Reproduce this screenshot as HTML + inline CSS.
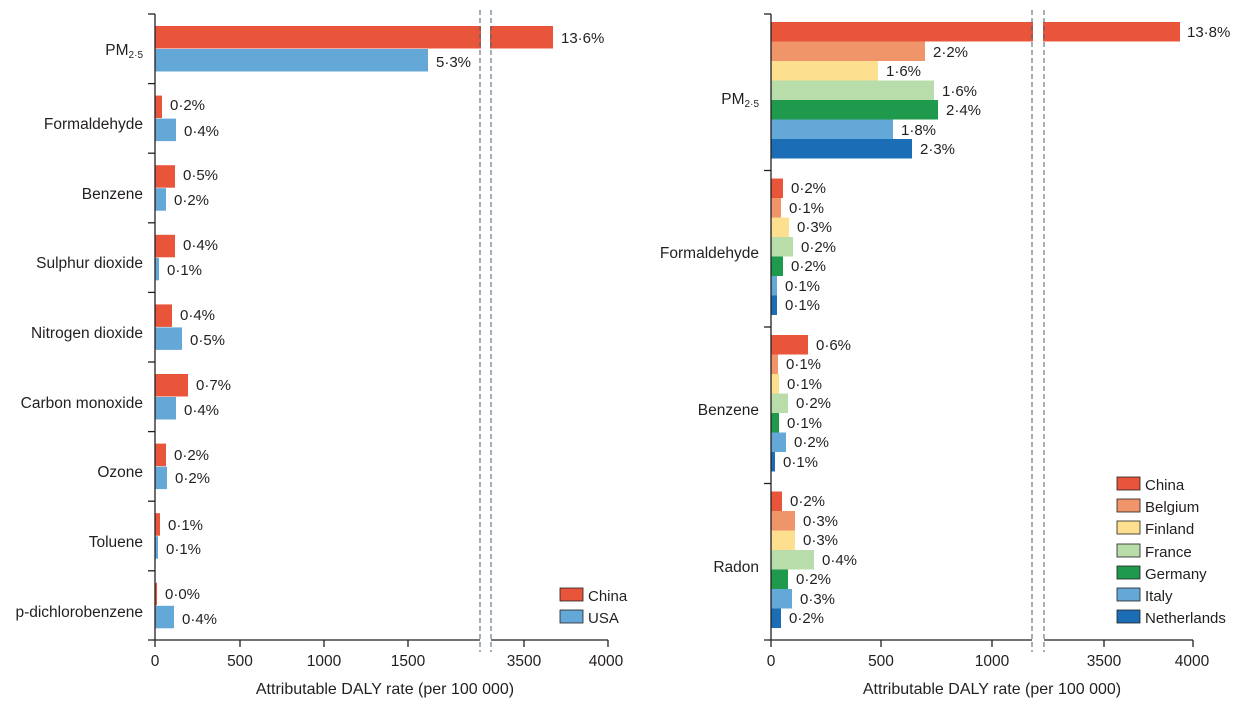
<!DOCTYPE html>
<html><head><meta charset="utf-8"><style>
body{margin:0;background:#fff;}
svg text{font-family:"Liberation Sans",sans-serif;font-size:15px;fill:#231f20;}
.c{text-anchor:end;font-size:15.5px;}
.t{text-anchor:middle;font-size:15.5px;}
.a{text-anchor:middle;font-size:16px;}
</style></head><body>
<svg width="1244" height="704" viewBox="0 0 1244 704" xmlns="http://www.w3.org/2000/svg">
<!-- LEFT CHART -->
<g>
<rect x="155" y="26" width="398" height="22.5" fill="#e8553b"/>
<rect x="155" y="49" width="273" height="22.5" fill="#63a8d6"/>
<rect x="155" y="95.6" width="7" height="22.5" fill="#e8553b"/>
<rect x="155" y="118.6" width="21" height="22.5" fill="#63a8d6"/>
<rect x="155" y="165.2" width="20" height="22.5" fill="#e8553b"/>
<rect x="155" y="188.2" width="11" height="22.5" fill="#63a8d6"/>
<rect x="155" y="234.8" width="20" height="22.5" fill="#e8553b"/>
<rect x="155" y="257.8" width="4" height="22.5" fill="#63a8d6"/>
<rect x="155" y="304.4" width="17" height="22.5" fill="#e8553b"/>
<rect x="155" y="327.4" width="27" height="22.5" fill="#63a8d6"/>
<rect x="155" y="374" width="33" height="22.5" fill="#e8553b"/>
<rect x="155" y="397" width="21" height="22.5" fill="#63a8d6"/>
<rect x="155" y="443.6" width="11" height="22.5" fill="#e8553b"/>
<rect x="155" y="466.6" width="12" height="22.5" fill="#63a8d6"/>
<rect x="155" y="513.2" width="5" height="22.5" fill="#e8553b"/>
<rect x="155" y="536.2" width="3" height="22.5" fill="#63a8d6"/>
<rect x="155" y="582.8" width="2" height="22.5" fill="#e8553b"/>
<rect x="155" y="605.8" width="19" height="22.5" fill="#63a8d6"/>
<rect x="481" y="20" width="9" height="60" fill="#fff"/>
<line x1="480" y1="10" x2="480" y2="652" stroke="#4a6072" stroke-width="1" stroke-dasharray="5,3"/>
<line x1="491" y1="10" x2="491" y2="652" stroke="#4a6072" stroke-width="1" stroke-dasharray="5,3"/>
<line x1="155" y1="14" x2="155" y2="640" stroke="#231f20" stroke-width="1.3"/>
<g stroke="#231f20" stroke-width="1.3">
<line x1="148" y1="14" x2="155" y2="14"/><line x1="148" y1="83.6" x2="155" y2="83.6"/><line x1="148" y1="153.2" x2="155" y2="153.2"/><line x1="148" y1="222.8" x2="155" y2="222.8"/><line x1="148" y1="292.4" x2="155" y2="292.4"/><line x1="148" y1="362" x2="155" y2="362"/><line x1="148" y1="431.6" x2="155" y2="431.6"/><line x1="148" y1="501.2" x2="155" y2="501.2"/><line x1="148" y1="570.8" x2="155" y2="570.8"/>
<line x1="148" y1="640" x2="480" y2="640"/><line x1="491" y1="640" x2="608" y2="640"/>
<line x1="155" y1="640" x2="155" y2="647"/><line x1="240" y1="640" x2="240" y2="647"/><line x1="324" y1="640" x2="324" y2="647"/><line x1="408" y1="640" x2="408" y2="647"/><line x1="524" y1="640" x2="524" y2="647"/><line x1="608" y1="640" x2="608" y2="647"/>
</g>
<text x="155" y="666" class="t">0</text><text x="240" y="666" class="t">500</text><text x="324" y="666" class="t">1000</text><text x="408" y="666" class="t">1500</text><text x="524" y="666" class="t">3500</text><text x="606" y="666" class="t">4000</text>
<text x="385" y="694" class="a">Attributable DALY rate (per 100 000)</text>
<text x="143" y="55" class="c">PM<tspan font-size="10" dy="3">2·5</tspan></text>
<text x="143" y="129" class="c">Formaldehyde</text>
<text x="143" y="199" class="c">Benzene</text>
<text x="143" y="268" class="c">Sulphur dioxide</text>
<text x="143" y="338" class="c">Nitrogen dioxide</text>
<text x="143" y="408" class="c">Carbon monoxide</text>
<text x="143" y="477" class="c">Ozone</text>
<text x="143" y="547" class="c">Toluene</text>
<text x="143" y="617" class="c">p-dichlorobenzene</text>
<text x="561" y="43">13·6%</text><text x="436" y="67">5·3%</text>
<text x="170" y="110">0·2%</text><text x="184" y="136">0·4%</text>
<text x="183" y="180">0·5%</text><text x="174" y="205">0·2%</text>
<text x="183" y="250">0·4%</text><text x="167" y="275">0·1%</text>
<text x="180" y="320">0·4%</text><text x="190" y="345">0·5%</text>
<text x="196" y="390">0·7%</text><text x="184" y="415">0·4%</text>
<text x="174" y="460">0·2%</text><text x="175" y="483">0·2%</text>
<text x="168" y="530">0·1%</text><text x="166" y="554">0·1%</text>
<text x="165" y="599">0·0%</text><text x="182" y="624">0·4%</text>
<rect x="560" y="588" width="23" height="13" fill="#e8553b" stroke="#231f20" stroke-width="0.8"/>
<rect x="560" y="610" width="23" height="13" fill="#63a8d6" stroke="#231f20" stroke-width="0.8"/>
<text x="588" y="601">China</text><text x="588" y="623">USA</text>
</g>
<!-- RIGHT CHART -->
<g>
<rect x="771" y="22" width="409" height="19.5" fill="#e8553b"/>
<rect x="771" y="41.5" width="154" height="19.5" fill="#f0956a"/>
<rect x="771" y="61" width="107" height="19.5" fill="#fce08f"/>
<rect x="771" y="80.5" width="163" height="19.5" fill="#b8dcaa"/>
<rect x="771" y="100" width="167" height="19.5" fill="#1f9a4c"/>
<rect x="771" y="119.5" width="122" height="19.5" fill="#63a8d6"/>
<rect x="771" y="139" width="141" height="19.5" fill="#1b6db5"/>
<rect x="771" y="178.5" width="12" height="19.5" fill="#e8553b"/>
<rect x="771" y="198" width="10" height="19.5" fill="#f0956a"/>
<rect x="771" y="217.5" width="18" height="19.5" fill="#fce08f"/>
<rect x="771" y="237" width="22" height="19.5" fill="#b8dcaa"/>
<rect x="771" y="256.5" width="12" height="19.5" fill="#1f9a4c"/>
<rect x="771" y="276" width="6" height="19.5" fill="#63a8d6"/>
<rect x="771" y="295.5" width="6" height="19.5" fill="#1b6db5"/>
<rect x="771" y="335" width="37" height="19.5" fill="#e8553b"/>
<rect x="771" y="354.5" width="7" height="19.5" fill="#f0956a"/>
<rect x="771" y="374" width="8" height="19.5" fill="#fce08f"/>
<rect x="771" y="393.5" width="17" height="19.5" fill="#b8dcaa"/>
<rect x="771" y="413" width="8" height="19.5" fill="#1f9a4c"/>
<rect x="771" y="432.5" width="15" height="19.5" fill="#63a8d6"/>
<rect x="771" y="452" width="4" height="19.5" fill="#1b6db5"/>
<rect x="771" y="491.5" width="11" height="19.5" fill="#e8553b"/>
<rect x="771" y="511" width="24" height="19.5" fill="#f0956a"/>
<rect x="771" y="530.5" width="24" height="19.5" fill="#fce08f"/>
<rect x="771" y="550" width="43" height="19.5" fill="#b8dcaa"/>
<rect x="771" y="569.5" width="17" height="19.5" fill="#1f9a4c"/>
<rect x="771" y="589" width="21" height="19.5" fill="#63a8d6"/>
<rect x="771" y="608.5" width="10" height="19.5" fill="#1b6db5"/>
<rect x="1033" y="18" width="10" height="28" fill="#fff"/>
<line x1="1032" y1="10" x2="1032" y2="652" stroke="#4a6072" stroke-width="1" stroke-dasharray="5,3"/>
<line x1="1044" y1="10" x2="1044" y2="652" stroke="#4a6072" stroke-width="1" stroke-dasharray="5,3"/>
<g stroke="#231f20" stroke-width="1.3">
<line x1="771" y1="14" x2="771" y2="640"/>
<line x1="764" y1="14" x2="771" y2="14"/><line x1="764" y1="170.5" x2="771" y2="170.5"/><line x1="764" y1="327" x2="771" y2="327"/><line x1="764" y1="483.5" x2="771" y2="483.5"/>
<line x1="764" y1="640" x2="1032" y2="640"/><line x1="1044" y1="640" x2="1193" y2="640"/>
<line x1="771" y1="640" x2="771" y2="647"/><line x1="881" y1="640" x2="881" y2="647"/><line x1="992" y1="640" x2="992" y2="647"/><line x1="1104" y1="640" x2="1104" y2="647"/><line x1="1193" y1="640" x2="1193" y2="647"/>
</g>
<text x="771" y="666" class="t">0</text><text x="881" y="666" class="t">500</text><text x="992" y="666" class="t">1000</text><text x="1104" y="666" class="t">3500</text><text x="1192" y="666" class="t">4000</text>
<text x="992" y="694" class="a">Attributable DALY rate (per 100 000)</text>
<text x="759" y="104" class="c">PM<tspan font-size="10" dy="3">2·5</tspan></text>
<text x="759" y="258" class="c">Formaldehyde</text>
<text x="759" y="415" class="c">Benzene</text>
<text x="759" y="572" class="c">Radon</text>
<text x="1187" y="37">13·8%</text><text x="933" y="57">2·2%</text><text x="886" y="76">1·6%</text><text x="942" y="96">1·6%</text><text x="946" y="115">2·4%</text><text x="901" y="135">1·8%</text><text x="920" y="154">2·3%</text>
<text x="791" y="193">0·2%</text><text x="789" y="213">0·1%</text><text x="797" y="232">0·3%</text><text x="801" y="252">0·2%</text><text x="791" y="271">0·2%</text><text x="785" y="291">0·1%</text><text x="785" y="310">0·1%</text>
<text x="816" y="350">0·6%</text><text x="786" y="369">0·1%</text><text x="787" y="389">0·1%</text><text x="796" y="408">0·2%</text><text x="787" y="428">0·1%</text><text x="794" y="447">0·2%</text><text x="783" y="467">0·1%</text>
<text x="790" y="506">0·2%</text><text x="803" y="526">0·3%</text><text x="803" y="545">0·3%</text><text x="822" y="565">0·4%</text><text x="796" y="584">0·2%</text><text x="800" y="604">0·3%</text><text x="789" y="623">0·2%</text>
<g stroke="#231f20" stroke-width="0.8">
<rect x="1117" y="477" width="23" height="13" fill="#e8553b"/>
<rect x="1117" y="499" width="23" height="13" fill="#f0956a"/>
<rect x="1117" y="521" width="23" height="13" fill="#fce08f"/>
<rect x="1117" y="544" width="23" height="13" fill="#b8dcaa"/>
<rect x="1117" y="566" width="23" height="13" fill="#1f9a4c"/>
<rect x="1117" y="588" width="23" height="13" fill="#63a8d6"/>
<rect x="1117" y="610" width="23" height="13" fill="#1b6db5"/>
</g>
<text x="1145" y="490">China</text><text x="1145" y="512">Belgium</text><text x="1145" y="534">Finland</text><text x="1145" y="557">France</text><text x="1145" y="579">Germany</text><text x="1145" y="601">Italy</text><text x="1145" y="623">Netherlands</text>
</g>
</svg>
</body></html>
